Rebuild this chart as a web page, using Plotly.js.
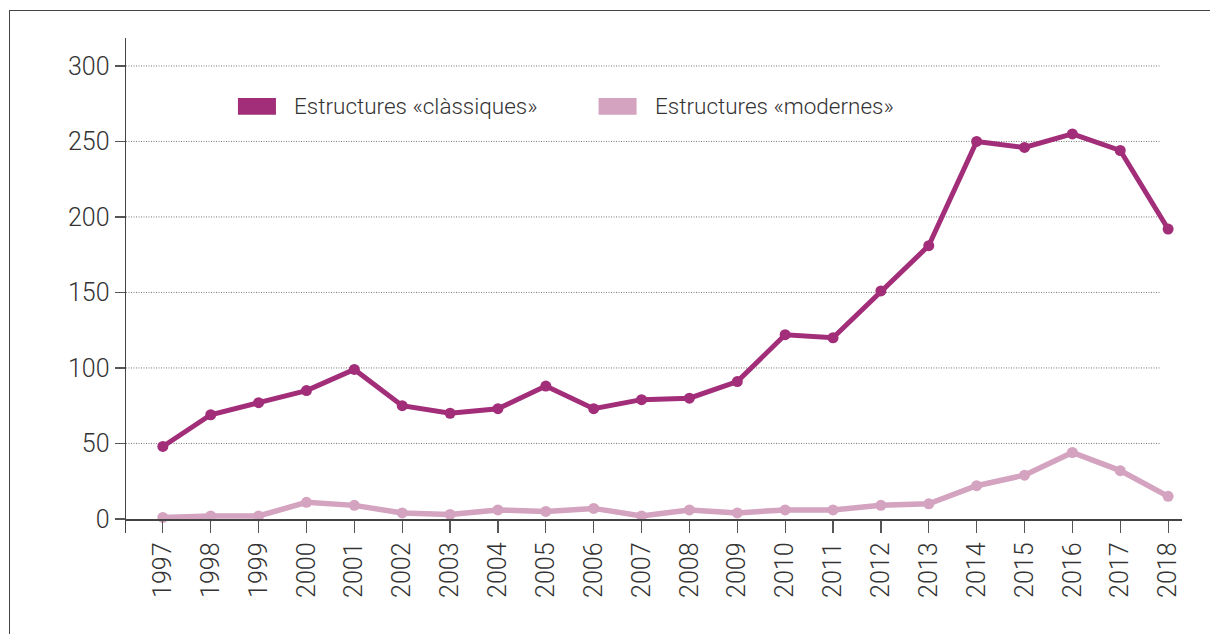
<!DOCTYPE html>
<html>
<head>
<meta charset="utf-8">
<script src="https://cdn.plot.ly/plotly-3.0.1.min.js"></script>
<style>
html,body{margin:0;padding:0;background:#fff;}
#frame{position:absolute;left:9px;top:10px;width:1300px;height:700px;border-left:1.5px solid #444;border-top:1.5px solid #444;}
#chart{position:absolute;left:0;top:0;width:1210px;height:634px;}
</style>
</head>
<body>
<div id="frame"></div>
<div id="chart"></div>
<script>
const years = [1997,1998,1999,2000,2001,2002,2003,2004,2005,2006,2007,2008,2009,2010,2011,2012,2013,2014,2015,2016,2017,2018];
const classiques = [48,69,77,85,99,75,70,73,88,73,79,80,91,122,120,151,181,250,246,255,244,192];
const modernes = [1,2,2,11,9,4,3,6,5,7,2,6,4,6,6,9,10,22,29,44,32,15];
const seriesNames = ['Estructures «clàssiques»','Estructures «modernes»'];
const seriesColors = ['#A22D78','#D3A3BF'];
const yTicks = [0,50,100,150,200,250,300];

const FONT = 'Roboto, sans-serif';
const TXT = '#333333';

const traces = [
  {x: years, y: modernes, name: seriesNames[1], type:'scatter', mode:'lines+markers',
   line:{color:seriesColors[1], width:5.5}, marker:{color:seriesColors[1], size:11}, showlegend:false},
  {x: years, y: classiques, name: seriesNames[0], type:'scatter', mode:'lines+markers',
   line:{color:seriesColors[0], width:5}, marker:{color:seriesColors[0], size:11}, showlegend:false}
];

const gridEnd = (1161-126)/(1182-126);
const shapes = yTicks.filter(v=>v>0).map(v=>({type:'line', xref:'paper', yref:'y', x0:0, x1:gridEnd, y0:v, y1:v,
  line:{color:'#777', width:1, dash:'1px,1.5px'}, layer:'below'}));

// legend swatches
const legX = [0.106, 0.4475];
const annotations = [];
seriesNames.forEach((n,i)=>{
  shapes.push({type:'rect', xref:'paper', yref:'paper', x0:legX[i], x1:legX[i]+0.036, y0:0.845, y1:0.879,
    fillcolor:seriesColors[i], line:{width:0}});
  annotations.push({xref:'paper', yref:'paper', x:legX[i]+0.0515, y:0.862, xanchor:'left', yanchor:'middle',
    text:n, showarrow:false, font:{family:FONT, size:22.5, weight:300, color:TXT}});
});

const layout = {
  width:1210, height:634,
  margin:{l:126, r:28, t:38, b:101},
  paper_bgcolor:'rgba(0,0,0,0)', plot_bgcolor:'rgba(0,0,0,0)',
  showlegend:false,
  font:{family:FONT, color:TXT, weight:300},
  xaxis:{range:[1996.23, 2018.29], tickmode:'array', tickvals:years, ticktext:years.map(String),
    tickangle:-90, ticks:'outside', ticklen:12, tickcolor:'#555', tickwidth:1.2,
    showgrid:false, zeroline:false, showline:true, linecolor:'#444', linewidth:1.5,
    anchor:'free', position:(533-519)/(533-38),
    tickfont:{family:FONT, size:25, weight:300, color:TXT}},
  yaxis:{range:[-9.3, 318.5], tickmode:'array', tickvals:yTicks, ticks:'outside', ticklen:10, tickcolor:'#555', tickwidth:1.2,
    showgrid:false, zeroline:false, showline:true, linecolor:'#444', linewidth:1.5,
    tickfont:{family:FONT, size:25, weight:300, color:TXT}},
  shapes: shapes,
  annotations: annotations
};

Plotly.newPlot('chart', traces, layout, {staticPlot:true, displayModeBar:false});
</script>
</body>
</html>
